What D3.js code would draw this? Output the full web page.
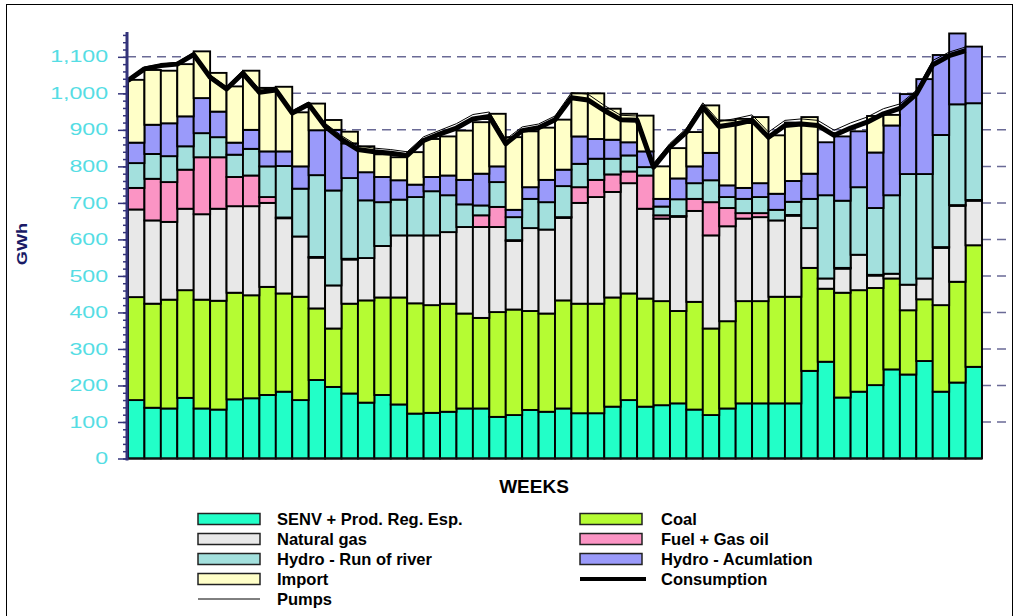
<!DOCTYPE html>
<html>
<head>
<meta charset="utf-8">
<script src="https://cdn.jsdelivr.net/npm/d3@7"></script>
<style>
  body { margin: 0; background: #fff; }
  text { font-family: Arial, "Liberation Sans", sans-serif; }
</style>
</head>
<body>
<svg width="1019" height="616"></svg>
<script>
// weekly generation by source, GWh
const weeks = d3.range(1, 53);
const senv = [160,139,137,166,137,134,162,165,174,183,160,215,196,178,153,174,148,123,125,128,137,137,114,119,133,128,
              137,124,124,142,160,142,146,151,134,119,137,151,151,151,151,240,265,167,183,201,244,230,267,183,208,251];
const coal = [282,285,298,295,298,298,292,282,296,269,283,196,160,246,280,267,293,302,295,296,260,248,287,289,271,269,
              296,300,300,299,292,296,285,253,295,237,239,280,280,292,292,282,200,287,278,266,249,176,169,237,276,333];
const gas  = [240,228,213,223,234,252,237,244,230,206,165,139,118,121,116,141,170,186,191,196,237,249,233,188,227,230,
              226,276,292,289,302,246,226,258,249,255,260,226,230,209,222,109,28,66,97,34,13,70,57,157,208,122];
const fuel = [59,114,109,107,156,141,80,84,16,2,0,2,0,2,0,0,0,0,0,0,0,32,55,2,0,0,
              2,43,47,48,32,91,9,2,33,91,50,15,11,0,2,0,0,2,0,2,0,0,0,2,2,2];
const ror  = [68,68,71,64,66,55,61,73,84,141,131,224,260,221,158,120,98,105,121,101,62,27,68,63,80,75,
              85,64,58,43,44,23,24,46,43,60,30,39,44,29,36,80,228,184,185,183,215,303,286,307,276,265];
const acc  = [56,80,90,82,96,70,33,52,41,40,61,123,166,95,77,69,53,34,39,54,67,87,43,20,32,61,
              45,75,54,52,36,43,21,57,46,75,32,30,38,44,57,69,145,176,153,152,191,219,260,219,194,155];
const imp  = [172,150,144,143,128,106,154,162,174,177,148,73,27,32,71,62,63,89,104,107,135,141,144,199,153,143,
              137,118,125,85,78,98,89,83,94,130,178,189,181,160,160,155,0,0,0,100,29,0,0,0,0,0];
const consumption = [1035,1067,1076,1080,1106,1044,1012,1055,1003,1009,946,970,910,874,846,840,836,830,871,889,905,930,
                     937,862,898,906,928,988,982,953,928,926,798,853,894,962,909,916,926,880,912,916,912,885,905,921,
                     944,959,998,1078,1103,1117];
const pumps = [5,5,4,5,6,6,6,8,8,8,6,6,8,10,10,10,10,10,10,10,12,12,12,12,10,10,10,14,16,14,12,12,10,10,10,12,14,15,
               15,14,14,14,14,14,14,14,14,12,10,12,10,10];

const keys = ["senv", "coal", "gas", "fuel", "ror", "acc", "imp"];
const colors = {
  senv: "#22ffc8", coal: "#b5fc33", gas: "#e8e8e8", fuel: "#fb94c4",
  ror: "#a3e0dd", acc: "#9a9afa", imp: "#ffffc8"
};

const rows = weeks.map((w, i) => ({
  week: w, senv: senv[i], coal: coal[i], gas: gas[i], fuel: fuel[i],
  ror: ror[i], acc: acc[i], imp: imp[i]
}));

const svg = d3.select("svg");

// outer frame
svg.append("rect")
  .attr("x", 6.5).attr("y", 4.5).attr("width", 1006).attr("height", 630)
  .attr("fill", "none").attr("stroke", "#000").attr("stroke-width", 1);

const x = d3.scaleBand().domain(weeks).range([128, 982]).padding(0);
const y = d3.scaleLinear().domain([0, 1168]).range([458.5, 32]);

svg.append("clipPath").attr("id", "plot")
  .append("rect").attr("x", 100).attr("y", 32).attr("width", 900).attr("height", 430);

// dashed grid
svg.append("g").selectAll("line")
  .data(d3.range(100, 1101, 100))
  .join("line")
  .attr("x1", 127).attr("x2", 1008)
  .attr("y1", d => y(d)).attr("y2", d => y(d))
  .attr("stroke", "#6a6a96").attr("stroke-width", 1.5)
  .attr("stroke-dasharray", "9,6");

// stacked bars
const series = d3.stack().keys(keys)(rows);
const plot = svg.append("g").attr("clip-path", "url(#plot)");

plot.selectAll("g.layer")
  .data(series)
  .join("g")
  .attr("class", "layer")
  .attr("fill", d => colors[d.key])
  .selectAll("rect")
  .data(d => d.filter(s => s[1] > s[0]))
  .join("rect")
  .attr("x", d => x(d.data.week))
  .attr("width", x.bandwidth())
  .attr("y", d => y(d[1]))
  .attr("height", d => y(d[0]) - y(d[1]))
  .attr("stroke", "#000")
  .attr("stroke-width", 1.9);

// pumps (thin) and consumption (thick) lines, one point per bar start
const lineGen = d3.line().x((d, i) => x(weeks[i])).y(d => y(d));

plot.append("path")
  .datum(consumption.map((c, i) => c + pumps[i]))
  .attr("d", lineGen)
  .attr("fill", "none").attr("stroke", "#000").attr("stroke-width", 1);

plot.append("path")
  .datum(consumption)
  .attr("d", lineGen)
  .attr("fill", "none").attr("stroke", "#000").attr("stroke-width", 5)
  .attr("stroke-linejoin", "round");

// x baseline
svg.append("line")
  .attr("x1", 127).attr("x2", 982).attr("y1", y(0)).attr("y2", y(0))
  .attr("stroke", "#111").attr("stroke-width", 2);

// y axis: minor and major ticks, labels stretched like the original
const axisColor = "#33337a";
const minor = svg.append("g").attr("transform", "translate(127,0)")
  .call(d3.axisLeft(y).tickValues(d3.range(0, 1161, 20)).tickSize(4).tickFormat(""));
const major = svg.append("g").attr("transform", "translate(127,0)")
  .call(d3.axisLeft(y).tickValues(d3.range(0, 1101, 100)).tickSize(9).tickFormat(d3.format(",")));
[minor, major].forEach(g => {
  g.select(".domain").remove();
  g.selectAll("line").attr("stroke", axisColor).attr("stroke-width", 1.5);
});
major.selectAll("text")
  .attr("x", -13)
  .attr("transform", "scale(1.45,1)")
  .attr("fill", "#55dde4")
  .style("font-size", "16px");

svg.append("line")
  .attr("x1", 127).attr("x2", 127).attr("y1", 32).attr("y2", y(0) + 2)
  .attr("stroke", axisColor).attr("stroke-width", 3);

svg.append("text")
  .attr("transform", "translate(27,244) rotate(-90) scale(1.3,1)")
  .attr("text-anchor", "middle")
  .attr("fill", "#1a1a66")
  .style("font-size", "14px").style("font-weight", "bold")
  .text("GWh");

svg.append("text")
  .attr("x", 534).attr("y", 493)
  .attr("text-anchor", "middle")
  .style("font-size", "19px").style("font-weight", "bold")
  .text("WEEKS");

// legend
const legendItems = [
  { label: "SENV + Prod. Reg. Esp.", key: "senv", col: 0, row: 0 },
  { label: "Natural gas", key: "gas", col: 0, row: 1 },
  { label: "Hydro - Run of river", key: "ror", col: 0, row: 2 },
  { label: "Import", key: "imp", col: 0, row: 3 },
  { label: "Pumps", line: 1, col: 0, row: 4 },
  { label: "Coal", key: "coal", col: 1, row: 0 },
  { label: "Fuel + Gas oil", key: "fuel", col: 1, row: 1 },
  { label: "Hydro - Acumlation", key: "acc", col: 1, row: 2 },
  { label: "Consumption", line: 4, col: 1, row: 3 }
];
const lg = svg.append("g").selectAll("g")
  .data(legendItems)
  .join("g")
  .attr("transform", d => `translate(${d.col ? 580 : 198},${519 + d.row * 20})`);

lg.filter(d => d.key)
  .append("rect")
  .attr("x", 0).attr("y", -5.5).attr("width", 62).attr("height", 11)
  .attr("fill", d => colors[d.key])
  .attr("stroke", "#222").attr("stroke-width", 1.5);

lg.filter(d => d.line)
  .append("line")
  .attr("x1", 0).attr("x2", d => d.line > 1 ? 66 : 62)
  .attr("y1", 0).attr("y2", 0)
  .attr("stroke", "#000").attr("stroke-width", d => d.line);

lg.append("text")
  .attr("x", d => d.col ? 81 : 79).attr("y", 6)
  .style("font-size", "16.5px").style("font-weight", "bold")
  .text(d => d.label);
</script>
</body>
</html>
